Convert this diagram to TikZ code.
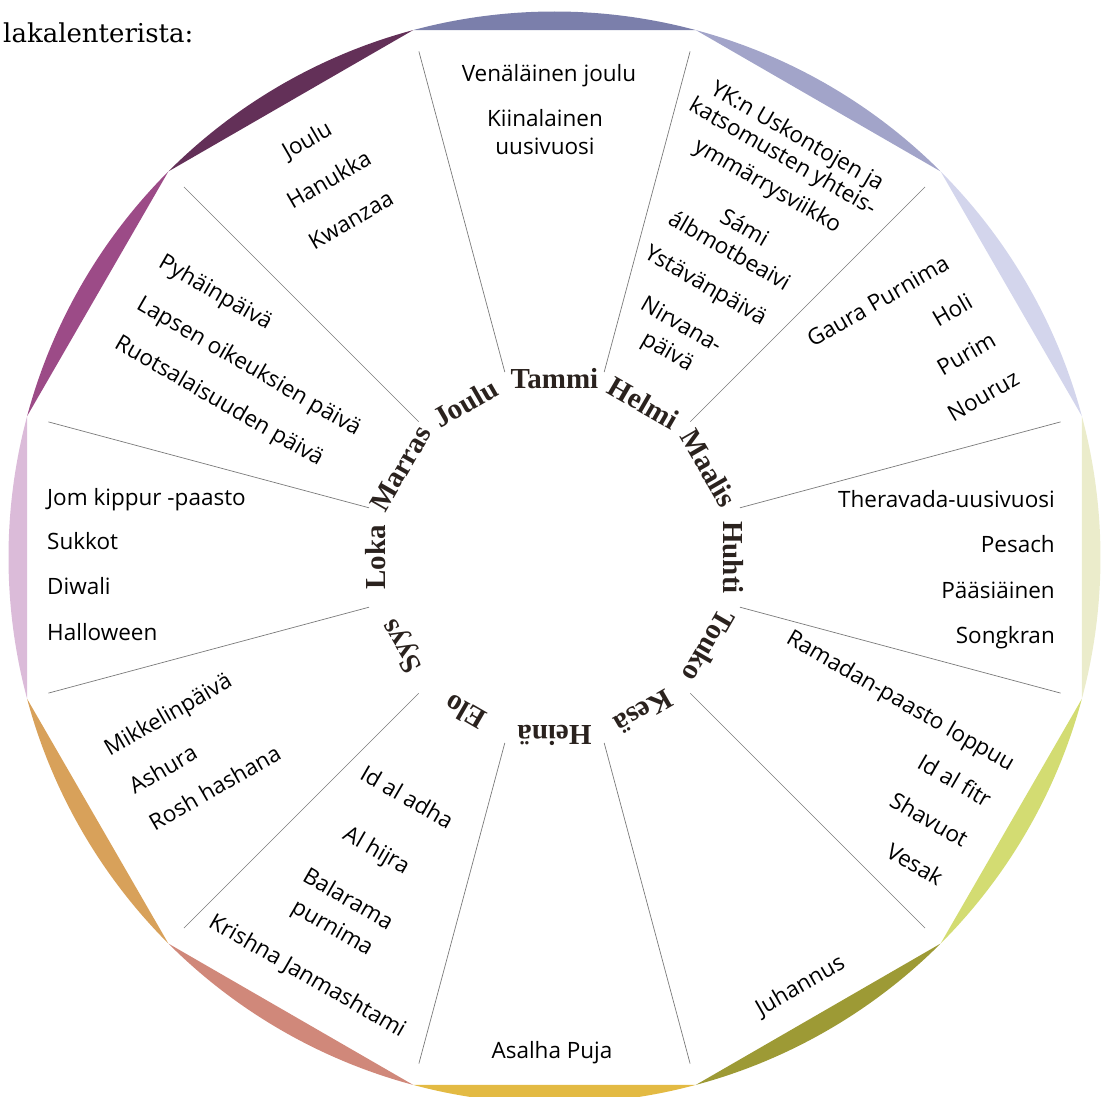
\documentclass[tikz,border=0pt]{standalone}
\usepackage{fontspec}
\setmainfont{Open Sans}
\newfontfamily\kkfont{Liberation Serif}
\newfontfamily\tekstifont{DejaVu Serif}
\definecolor{ctammi}{HTML}{7B7FAB}
\definecolor{chelmi}{HTML}{A2A4C9}
\definecolor{cmaalis}{HTML}{D3D5EC}
\definecolor{chuhti}{HTML}{EBECCB}
\definecolor{ctouko}{HTML}{D3DC72}
\definecolor{ckesa}{HTML}{9D9A35}
\definecolor{cheina}{HTML}{E3BA43}
\definecolor{celo}{HTML}{D0887A}
\definecolor{csyys}{HTML}{D8A15A}
\definecolor{cloka}{HTML}{DBBBD9}
\definecolor{cmarras}{HTML}{9C4B87}
\definecolor{cjoulu}{HTML}{633058}
\definecolor{kkteksti}{HTML}{2A221E}
\definecolor{rajaviiva}{HTML}{7A7A7A}

\begin{document}
\begin{tikzpicture}[x=1pt,y=1pt,
	ev/.style={font=\fontsize{22.5}{27}\selectfont, inner sep=0pt, text height=17pt, text depth=6pt},
	kk/.style={font=\kkfont\bfseries\fontsize{29}{32}\selectfont, text=kkteksti, inner sep=0pt, text height=19pt, text depth=0pt},
	raja/.style={draw=rajaviiva, line width=0.7pt}]
				\useasboundingbox (-554.5,-539.5) rectangle (548.5,557.5);
				
				\fill[ctammi]  (75:546)   arc[start angle=75,   end angle=105,  radius=546] -- cycle;
				\fill[chelmi]  (45:546)   arc[start angle=45,   end angle=75,   radius=546] -- cycle;
				\fill[cmaalis] (15:546)   arc[start angle=15,   end angle=45,   radius=546] -- cycle;
				\fill[chuhti]  (-15:546)  arc[start angle=-15,  end angle=15,   radius=546] -- cycle;
				\fill[ctouko]  (-45:546)  arc[start angle=-45,  end angle=-15,  radius=546] -- cycle;
				\fill[ckesa]   (-75:546)  arc[start angle=-75,  end angle=-45,  radius=546] -- cycle;
				\fill[cheina]  (-105:546) arc[start angle=-105, end angle=-75,  radius=546] -- cycle;
				\fill[celo]    (-135:546) arc[start angle=-135, end angle=-105, radius=546] -- cycle;
				\fill[csyys]   (-165:546) arc[start angle=-165, end angle=-135, radius=546] -- cycle;
				\fill[cloka]   (165:546)  arc[start angle=165,  end angle=195,  radius=546] -- cycle;
				\fill[cmarras] (135:546)  arc[start angle=135,  end angle=165,  radius=546] -- cycle;
				\fill[cjoulu]  (105:546)  arc[start angle=105,  end angle=135,  radius=546] -- cycle;
				
				\coordinate (a1)  at (15:192);   \coordinate (b1)  at (15:524);
				\coordinate (a2)  at (45:192);   \coordinate (b2)  at (45:524);
				\coordinate (a3)  at (75:192);   \coordinate (b3)  at (75:524);
				\coordinate (a4)  at (105:192);  \coordinate (b4)  at (105:524);
				\coordinate (a5)  at (135:192);  \coordinate (b5)  at (135:524);
				\coordinate (a6)  at (165:192);  \coordinate (b6)  at (165:524);
				\coordinate (a7)  at (195:192);  \coordinate (b7)  at (195:524);
				\coordinate (a8)  at (225:192);  \coordinate (b8)  at (225:524);
				\coordinate (a9)  at (255:192);  \coordinate (b9)  at (255:524);
				\coordinate (a10) at (285:192);  \coordinate (b10) at (285:524);
				\coordinate (a11) at (315:192);  \coordinate (b11) at (315:524);
				\coordinate (a12) at (345:192);  \coordinate (b12) at (345:524);
				
				\draw[raja] (a1) -- (b1);
				\draw[raja] (a2) -- (b2);
				\draw[raja] (a3) -- (b3);
				\draw[raja] (a4) -- (b4);
				\draw[raja] (a5) -- (b5);
				\draw[raja] (a6) -- (b6);
				\draw[raja] (a7) -- (b7);
				\draw[raja] (a8) -- (b8);
				\draw[raja] (a9) -- (b9);
				\draw[raja] (a10) -- (b10);
				\draw[raja] (a11) -- (b11);
				\draw[raja] (a12) -- (b12);
				
				\node[kk, rotate=0]    (tammi)  at (90:178)  {Tammi};
				\node[kk, rotate=-30]  (helmi)  at (60:178)  {Helmi};
				\node[kk, rotate=-60]  (maalis) at (30:178)  {Maalis};
				\node[kk, rotate=-90]  (huhti)  at (0:178)   {Huhti};
				\node[kk, rotate=-120] (touko)  at (-30:178) {Touko};
				\node[kk, rotate=-150] (kesa)   at (-60:178) {Kesä};
				\node[kk, rotate=180]  (heina)  at (-90:178) {Heinä};
				\node[kk, rotate=150]  (elo)    at (-120:178) {Elo};
				\node[kk, rotate=120]  (syys)   at (-150:178) {Syys};
				\node[kk, rotate=90]   (loka)   at (180:178) {Loka};
				\node[kk, rotate=60]   (marras) at (150:178) {Marras};
				\node[kk, rotate=30]   (joulu)  at (120:178) {Joulu};
				
				\node[ev] (t1) at (-5.5,481) {Venäläinen joulu};
				\node[ev] (t2) at (-9.5,436) {Kiinalainen};
				\node[ev] (t3) at (-9.5,408) {uusivuosi};
				
				\node[ev, rotate=-30] (h1) at (242,420)     {YK:n Uskontojen ja};
				\node[ev, rotate=-30] (h2) at (227.5,399.5) {katsomusten yhteis-};
				\node[ev, rotate=-30] (h3) at (212.5,370.5) {ymmärrysviikko};
				\node[ev, rotate=-30] (h4) at (189,328)     {Sámi};
				\node[ev, rotate=-30] (h5) at (174,305)     {álbmotbeaivi};
				\node[ev, rotate=-30] (h6) at (150.5,270.5) {Ystävänpäivä};
				\node[ev, rotate=-30] (h7) at (126,231)     {Nirvana-};
				\node[ev, rotate=-30] (h8) at (112.5,204.5) {päivä};
				
				\node[ev, rotate=30, anchor=east] (ma1) at (393.8,294.2) {Gaura Purnima};
				\node[ev, rotate=30, anchor=east] (ma2) at (417.2,255.8) {Holi};
				\node[ev, rotate=30, anchor=east] (ma3) at (440.5,217.5) {Purim};
				\node[ev, rotate=30, anchor=east] (ma4) at (463.8,179.2) {Nouruz};
				
				\node[ev, anchor=east] (hu1) at (500.5,55.5)  {Theravada-uusivuosi};
				\node[ev, anchor=east] (hu2) at (500.5,10.5)  {Pesach};
				\node[ev, anchor=east] (hu3) at (500.5,-35.3) {Pääsiäinen};
				\node[ev, anchor=east] (hu4) at (500.5,-81)   {Songkran};
				
				\node[ev, rotate=-30, anchor=east] (to1) at (457.5,-209.5) {Ramadan-paasto loppuu};
				\node[ev, rotate=-30, anchor=east] (to2) at (433.8,-245.8) {Id al fitr};
				\node[ev, rotate=-30, anchor=east] (to3) at (410.5,-285.8) {Shavuot};
				\node[ev, rotate=-30, anchor=east] (to4) at (385.5,-324.2) {Vesak};
				
				\node[ev, rotate=30] (ke1) at (246.5,-429.5) {Juhannus};
				
				\node[ev] (he1) at (-2.5,-495) {Asalha Puja};
				
				\node[ev, rotate=-30] (el1) at (-148.8,-241.8) {Id al adha};
				\node[ev, rotate=-30] (el2) at (-178.8,-294.2) {Al hijra};
				\node[ev, rotate=-30] (el3) at (-207.2,-343.2) {Balarama};
				\node[ev, rotate=-30] (el4) at (-222.8,-371.5) {purnima};
				\node[ev, rotate=-30] (el5) at (-247.8,-419.8) {Krishna Janmashtami};
				
				\node[ev, rotate=30, anchor=west] (sy1) at (-447.5,-194.5) {Mikkelinpäivä};
				\node[ev, rotate=30, anchor=west] (sy2) at (-422.5,-232.5) {Ashura};
				\node[ev, rotate=30, anchor=west] (sy3) at (-402.5,-269.5) {Rosh hashana};
				
				\node[ev, anchor=west] (lo1) at (-507.5,57)    {Jom kippur -paasto};
				\node[ev, anchor=west] (lo2) at (-507.5,13)    {Sukkot};
				\node[ev, anchor=west] (lo3) at (-507.5,-32)   {Diwali};
				\node[ev, anchor=west] (lo4) at (-507.5,-77.5) {Halloween};
				
				\node[ev, rotate=-30, anchor=west] (mr1) at (-394.5,295.5) {Pyhäinpäivä};
				\node[ev, rotate=-30, anchor=west] (mr2) at (-416.5,253.5) {Lapsen oikeuksien päivä};
				\node[ev, rotate=-30, anchor=west] (mr3) at (-438.5,214.5) {Ruotsalaisuuden päivä};
				
				\node[ev, rotate=30] (jo1) at (-246.5,415.5) {Joulu};
				\node[ev, rotate=30] (jo2) at (-224.5,375.5) {Hanukka};
				\node[ev, rotate=30] (jo3) at (-202.5,335.5) {Kwanzaa};
				
				\node[font=\tekstifont\fontsize{26}{30}\selectfont, inner sep=0pt, anchor=base west] (otsikko) at (-551.5,514.5) {lakalenterista:};
			\end{tikzpicture}
\end{document}
